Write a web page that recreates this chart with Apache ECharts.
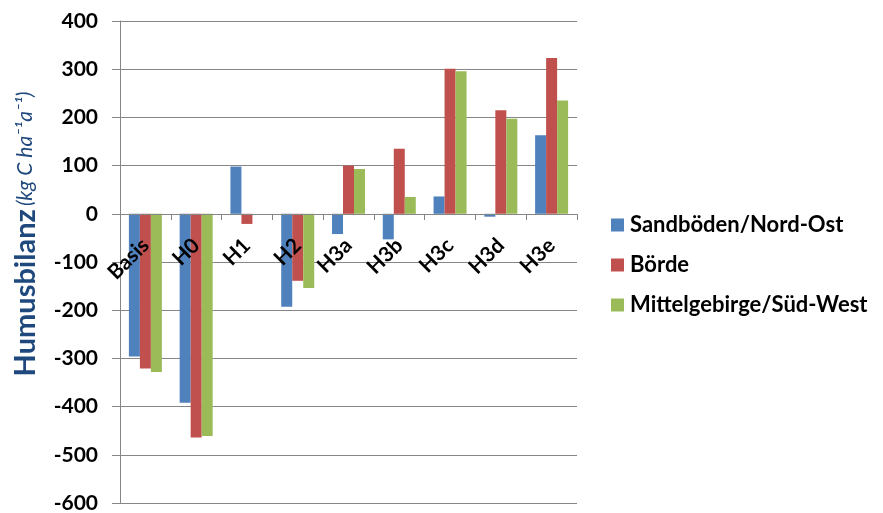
<!DOCTYPE html>
<html><head><meta charset="utf-8">
<script src="https://cdn.jsdelivr.net/npm/echarts@6/dist/echarts.min.js"></script>
<style>html,body{margin:0;padding:0;background:#fff}#c{width:883px;height:513px}</style>
</head><body><div id="c"></div>
<script>
var categories = ['Basis','H0','H1','H2','H3a','H3b','H3c','H3d','H3e'];
var sandboeden = [-296,-392,98,-193,-42,-53,36,-6,163];
var boerde = [-321,-464,-21,-139,100,135,301,215,323];
var mittelgebirge = [-328,-461,0,-154,93,35,296,197,235];
var seriesNames = ['Sandböden/Nord-Ost','Börde','Mittelgebirge/Süd-West'];
var colors = ['#4F81BD','#C0504D','#9BBB59'];
var FONT = 'Lato';
var chart = echarts.init(document.getElementById('c'));
chart.setOption({
  animation:false,
  color:colors,
  textStyle:{fontFamily:FONT},
  grid:{left:120,right:306,top:21,bottom:10,containLabel:false,outerBoundsMode:'none'},
  legend:{orient:'vertical',left:606,top:209,itemWidth:13,itemHeight:13,itemGap:18,
    icon:'rect',
    textStyle:{fontFamily:FONT,fontWeight:'bold',fontSize:22,color:'#000',padding:[0,0,0,1]},
    data:seriesNames},
  xAxis:{type:'category',data:categories,z:5,
    offset:-289,
    axisLine:{onZero:false,lineStyle:{color:'#868686',width:1}},
    axisTick:{show:true,interval:0,length:6,lineStyle:{color:'#868686'}},
    axisLabel:{rotate:45,margin:28,interval:0,fontFamily:FONT,fontWeight:'bold',fontSize:21,color:'#000'},
    splitLine:{show:false}},
  yAxis:{type:'value',min:-600,max:400,interval:100,
    name:'{b|Humusbilanz} {i|(kg C ha\u207B\u00B9a\u207B\u00B9)}',
    nameLocation:'middle',nameGap:80,nameRotate:90,
    nameTextStyle:{padding:[0,0,0,56],rich:{
      b:{fontFamily:FONT,fontWeight:'bold',fontSize:29,color:'#1F497D'},
      i:{fontFamily:FONT,fontStyle:'italic',fontSize:21,color:'#1F497D'}
    }},
    axisLine:{show:true,lineStyle:{color:'#868686'}},
    axisTick:{show:true,length:8,lineStyle:{color:'#868686'}},
    axisLabel:{margin:22,fontFamily:FONT,fontWeight:'bold',fontSize:21,color:'#000'},
    splitLine:{show:true,lineStyle:{color:'#868686',width:1}}},
  series:[
    {name:seriesNames[0],type:'bar',data:sandboeden,barGap:'0%',barCategoryGap:'35%'},
    {name:seriesNames[1],type:'bar',data:boerde,barGap:'0%',barCategoryGap:'35%'},
    {name:seriesNames[2],type:'bar',data:mittelgebirge,barGap:'0%',barCategoryGap:'35%'}
  ]
});
</script></body></html>
